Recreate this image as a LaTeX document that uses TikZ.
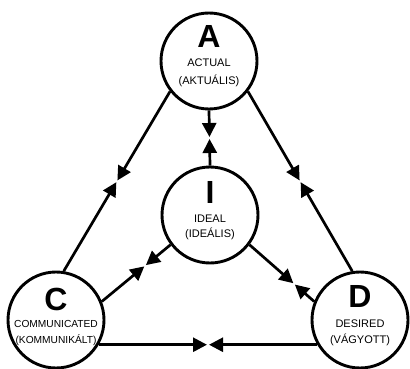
\documentclass[tikz,border=0pt]{standalone}
\usepackage{fontspec}
\setmainfont{Liberation Sans}
\usetikzlibrary{arrows.meta,calc}
\begin{document}
\begin{tikzpicture}[x=1pt,y=-1pt,
  state/.style={circle, draw, line width=2.9pt, minimum size=96pt, inner sep=0pt},
  letter/.style={font=\fontsize{32}{32}\selectfont\bfseries, inner sep=0pt},
  caption/.style={font=\fontsize{11}{13}\selectfont, inner sep=0pt},
  smallcaption/.style={font=\fontsize{10.2}{12}\selectfont, inner sep=0pt},
  link/.style={line width=2.7pt, -{Triangle[length=14pt,width=14pt]}, shorten >=1pt}]
\useasboundingbox (0,0) rectangle (410,369);

% the four states
\node[state] (A) at (209,61) {};
\node[state] (I) at (210,215) {};
\node[state] (C) at (56,320) {};
\node[state] (D) at (360,320) {};

% labels inside the circles
\node[letter]  (Al) at (209,36) {A};
\node[caption] (At) at (209,62.5) {ACTUAL};
\node[caption] (Ah) at (209,81) {(AKTUÁLIS)};

\node[letter]  (Il) at (210,192) {I};
\node[caption] (It) at (210,218.5) {IDEAL};
\node[caption] (Ih) at (210,234) {(IDEÁLIS)};

\node[letter]       (Cl) at (56,299) {C};
\node[smallcaption] (Ct) at (56,323.5) {COMMUNICATED};
\node[smallcaption] (Ch) at (56,340.5) {(KOMMUNIKÁLT)};

\node[letter]  (Dl) at (360,296) {D};
\node[caption] (Dt) at (360,323.5) {DESIRED};
\node[caption] (Dh) at (360,340) {(VÁGYOTT)};

% meeting points of the opposing arrows
\coordinate (mAC) at ($(A.218)!0.5!(C.81)$);
\coordinate (mAD) at ($(A.322)!0.5!(D.99)$);
\coordinate (mAI) at ($(A.south)!0.5!(I.north)$);
\coordinate (mIC) at ($(I.217)!0.37!(C.22)$);
\coordinate (mID) at ($(I.323)!0.69!(D.158)$);
\coordinate (mCD) at ($(C.-30)!0.5!(D.210)$);

% connectors
\draw[link] (A.218) -- (mAC);
\draw[link] (C.81) -- (mAC);
\draw[link] (A.322) -- (mAD);
\draw[link] (D.99) -- (mAD);
\draw[link] (A.south) -- (mAI);
\draw[link] (I.north) -- (mAI);
\draw[link] (I.217) -- (mIC);
\draw[link] (C.22) -- (mIC);
\draw[link] (I.323) -- (mID);
\draw[link] (D.158) -- (mID);
\draw[link] (C.-30) -- (mCD);
\draw[link] (D.210) -- (mCD);
\end{tikzpicture}
\end{document}
